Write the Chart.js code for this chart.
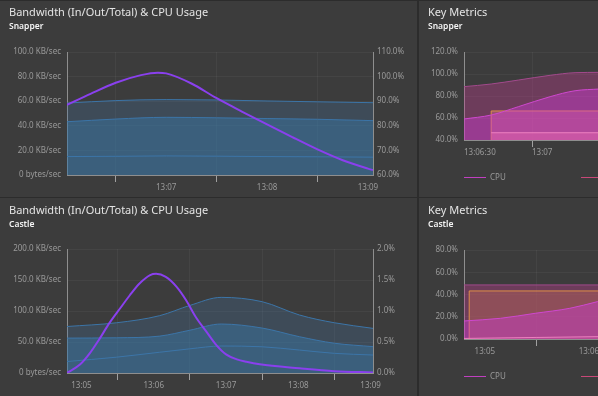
<!DOCTYPE html>
<html><head><meta charset="utf-8">
<script src="https://cdn.jsdelivr.net/npm/chart.js@4.4.1/dist/chart.umd.min.js"></script>
<style>
html,body{margin:0;padding:0;background:#3c3c3c;width:598px;height:396px;overflow:hidden;position:relative;font-family:'Noto Sans',sans-serif;}
.panel{position:absolute;overflow:visible;}
.title{position:absolute;left:9px;top:6.4px;font-size:11px;line-height:11px;color:#e4e4e4;white-space:nowrap;}
.sub{position:absolute;left:9px;top:21.8px;font-size:8.5px;line-height:8.5px;color:#f4f4f4;font-weight:600;white-space:nowrap;}
canvas{position:absolute;left:0;top:0;}
.sep{position:absolute;background:#2c2c2c;}
.leg{position:absolute;font-size:8px;line-height:8px;color:#9a9a9a;white-space:nowrap;}
.legline{position:absolute;height:1px;width:22px;}
</style></head>
<body>
<div class="sep" style="left:0;top:0;width:598px;height:1px"></div>
<div class="sep" style="left:0;top:197px;width:598px;height:1px"></div>
<div class="sep" style="left:417px;top:0;width:2px;height:396px"></div>

<div class="panel" style="left:0;top:0;width:417px;height:197px">
  <canvas id="c1" width="417" height="197"></canvas>
  <div class="title">Bandwidth (In/Out/Total) &amp; CPU Usage</div>
  <div class="sub">Snapper</div>
</div>
<div class="panel" style="left:0;top:198px;width:417px;height:198px">
  <canvas id="c2" width="417" height="198"></canvas>
  <div class="title">Bandwidth (In/Out/Total) &amp; CPU Usage</div>
  <div class="sub">Castle</div>
</div>
<div class="panel" style="left:419px;top:0;width:215px;height:197px">
  <canvas id="c3" width="215" height="197"></canvas>
  <div class="title">Key Metrics</div>
  <div class="sub">Snapper</div>
  <div class="legline" style="left:45px;top:176.5px;background:#c040c0"></div>
  <div class="leg" style="left:71px;top:173px">CPU</div>
  <div class="legline" style="left:162px;top:176.5px;background:#c84878"></div>
  <div class="leg" style="left:188px;top:173px">Memory</div>
</div>
<div class="panel" style="left:419px;top:198px;width:215px;height:198px">
  <canvas id="c4" width="215" height="198"></canvas>
  <div class="title">Key Metrics</div>
  <div class="sub">Castle</div>
  <div class="legline" style="left:45px;top:177.5px;background:#c040c0"></div>
  <div class="leg" style="left:71px;top:174px">CPU</div>
  <div class="legline" style="left:162px;top:177.5px;background:#c84878"></div>
  <div class="leg" style="left:188px;top:174px">Memory</div>
</div>

<script>
// ---------- DATA ----------
// Snapper bandwidth (KB/sec)
const snapBwTimes   = ['13:06:01','13:06:30','13:07:00','13:07:30','13:08:00','13:08:30','13:09:03'];
const snapBwTotal   = [58.5, 60.5, 61.3, 61.0, 60.2, 59.5, 58.8];
const snapBwIn      = [43.3, 45.5, 46.9, 46.5, 45.9, 45.3, 44.2];
const snapBwOut     = [15.0, 15.2, 15.5, 15.3, 15.0, 14.8, 14.5];
// Snapper CPU (%)
const snapCpuTimes  = ['13:06:01','13:06:15','13:06:30','13:06:45','13:06:55','13:07:00','13:07:15','13:07:30','13:07:45','13:08:00','13:08:15','13:08:30','13:08:45','13:09:00','13:09:03'];
const snapCpu       = [88.5, 93.0, 97.5, 100.6, 101.6, 101.3, 97.2, 91.2, 85.8, 80.6, 75.4, 70.4, 66.0, 62.6, 62.0];

// Castle bandwidth (KB/sec)
const castBwTimes   = ['13:04:48','13:05:29','13:06:05','13:06:30','13:06:56','13:07:30','13:08:01','13:08:30','13:09:02'];
const castBwTotal   = [75.0, 81.0, 92.5, 109.0, 122.0, 115.0, 93.5, 81.0, 72.0];
const castBwIn      = [56.3, 56.8, 59.5, 69.0, 79.0, 72.5, 58.5, 48.0, 42.5];
const castBwOut     = [18.5, 25.5, 33.5, 39.0, 43.5, 42.3, 37.0, 31.7, 29.0];
// Castle CPU (%)
const castCpuTimes  = ['13:04:48','13:04:59','13:05:07','13:05:15','13:05:23','13:05:32','13:05:40','13:05:48','13:05:57','13:06:02','13:06:10','13:06:19','13:06:27','13:06:35','13:06:44','13:06:52','13:07:00','13:07:09','13:07:17','13:07:28','13:08:01','13:08:30','13:09:02'];
const castCpu       = [0.00, 0.14, 0.32, 0.55, 0.80, 1.04, 1.25, 1.44, 1.58, 1.60, 1.55, 1.39, 1.17, 0.90, 0.66, 0.45, 0.30, 0.22, 0.18, 0.14, 0.076, 0.03, 0.01];

// Key metrics – Snapper (%)
const kmSnapTimes   = ['13:06:30','13:06:42','13:06:54','13:07:08','13:07:19','13:07:30'];
const kmSnapMem     = [88.5, 90.9, 94.5, 98.8, 101.2, 101.5];
const kmSnapCpu     = [59.1, 62.7, 70.3, 79.4, 84.8, 86.4];
const kmSnapBoxTimes= ['13:06:42','13:06:42','13:07:30'];
const kmSnapBox     = [40, 66.4, 66.4];
const kmSnapStripTimes = ['13:06:42','13:07:30'];
const kmSnapStrip   = [46.6, 46.6];

// Key metrics – Castle (%)
const kmCastMemTimes= ['13:04:48','13:06:10'];
const kmCastMem     = [48.6, 48.6];
const kmCastBoxTimes= ['13:04:51','13:04:51','13:06:10'];
const kmCastBox     = [0, 43.2, 43.2];
const kmCastCpuTimes= ['13:04:48','13:05:09','13:05:29','13:05:49','13:06:05','13:06:10'];
const kmCastCpu     = [16.2, 18.6, 23.1, 27.6, 33.6, 35.5];
const kmCastLowTimes= ['13:04:48','13:05:30','13:06:10'];
const kmCastLow     = [0.5, 1.4, 2.2];

// Tick labels
const bwLeftSnapTicks  = ['0 bytes/sec','20.0 KB/sec','40.0 KB/sec','60.0 KB/sec','80.0 KB/sec','100.0 KB/sec'];
const bwRightSnapTicks = ['60.0%','70.0%','80.0%','90.0%','100.0%','110.0%'];
const bwLeftCastTicks  = ['0 bytes/sec','50.0 KB/sec','100.0 KB/sec','150.0 KB/sec','200.0 KB/sec'];
const bwRightCastTicks = ['0.0%','0.5%','1.0%','1.5%','2.0%'];
const kmSnapTicks      = ['40.0%','60.0%','80.0%','100.0%','120.0%'];
const kmCastTicks      = ['0.0%','20.0%','40.0%','60.0%','80.0%'];
const snapXLabels = ['13:07','13:08','13:09'];
const snapXMarks  = ['13:06:30','13:07:30','13:08:30'];
const castXLabels = ['13:05','13:06','13:07','13:08','13:09'];
const castXMarks  = ['13:05:30','13:06:30','13:07:30','13:08:30'];
const kmSnapXLabels = ['13:06:30','13:07'];
const kmSnapXMarks  = ['13:07'];
const kmCastXLabels = ['13:05','13:06'];
const kmCastXMarks  = ['13:05:30'];

// ---------- HELPERS ----------
const TICK = '#9a9a9a', AXIS = '#8e8e8e', GRID = 'rgba(255,255,255,0.045)';
const FONT = {family:'Noto Sans', size:8};
const parseT = s => { const p = s.split(':').map(Number); return (p[0]-13)*3600 + p[1]*60 + (p[2]||0); };
const toXY = (t, v) => t.map((s,i)=>({x:parseT(s), y:v[i]}));

function timeAxis(minS, maxS, labels, marks, align, h) {
  const lab = labels.map(parseT), mk = marks.map(parseT);
  const vals = [...new Set([...lab, ...mk])].sort((a,b)=>a-b);
  return {
    type:'linear', position:'bottom', min:parseT(minS), max:parseT(maxS),
    afterBuildTicks: s => { s.ticks = vals.map(v=>({value:v})); },
    afterFit: s => { s.height = h; },
    ticks:{autoSkip:false, maxRotation:0, minRotation:0, padding:1, align:align, color:TICK, font:FONT,
      callback: v => { const i = lab.indexOf(v); return i>=0 ? labels[i] : ''; }},
    grid:{drawTicks:true, tickLength:7,
      color: c => (c.tick && mk.includes(c.tick.value)) ? GRID : 'rgba(0,0,0,0)',
      tickColor: c => (c.tick && mk.includes(c.tick.value)) ? '#a0a0a0' : 'rgba(0,0,0,0)'},
    border:{color:AXIS, width:1}
  };
}
function valueAxis(pos, min, step, labels, w, grid) {
  return {
    type:'linear', position:pos, min:min, max:min+step*(labels.length-1),
    afterBuildTicks: s => { s.ticks = labels.map((_,i)=>({value:min+i*step})); },
    afterFit: s => { s.width = w; },
    ticks:{color:TICK, font:FONT, padding: pos==='left'?6:4, callback:(v,i)=>labels[i]},
    grid:{drawOnChartArea:grid, drawTicks:false, color:GRID},
    border:{color:AXIS, width:1}
  };
}
const base = (pad) => ({
  responsive:false, animation:false, devicePixelRatio:1, events:[],
  layout:{padding:pad},
  plugins:{legend:{display:false}, tooltip:{enabled:false}},
  elements:{point:{radius:0}}
});
const PURPLE = '#8a40ee', BLUE = '#3c75a8';

function bwChart(id, times, tot, inn, out, cTimes, cpu, xMin, xMax, xl, xm, lt, lmin, lstep, rt, rmin, rstep, padTop, xh) {
  new Chart(document.getElementById(id), {
    type:'line',
    data:{datasets:[
      {data:toXY(cTimes,cpu), yAxisID:'y1', borderColor:PURPLE, borderWidth:2, fill:false, cubicInterpolationMode:'monotone', order:0},
      {data:toXY(times,out), yAxisID:'y', borderColor:BLUE, borderWidth:1, fill:false, cubicInterpolationMode:'monotone', order:1},
      {data:toXY(times,inn), yAxisID:'y', borderColor:BLUE, borderWidth:1, fill:'origin', backgroundColor:'rgba(56,122,172,0.43)', cubicInterpolationMode:'monotone', order:2},
      {data:toXY(times,tot), yAxisID:'y', borderColor:BLUE, borderWidth:1, fill:'origin', backgroundColor:'rgba(70,120,170,0.26)', cubicInterpolationMode:'monotone', order:3}
    ]},
    options:Object.assign(base({top:padTop, left:0, right:0, bottom:0}), {
      scales:{
        x: timeAxis(xMin, xMax, xl, xm, 'center', xh),
        y: valueAxis('left', lmin, lstep, lt, 67, true),
        y1: valueAxis('right', rmin, rstep, rt, 44, false)
      }
    })
  });
}

bwChart('c1', snapBwTimes, snapBwTotal, snapBwIn, snapBwOut, snapCpuTimes, snapCpu,
  '13:06:01','13:09:03', snapXLabels, snapXMarks, bwLeftSnapTicks, 0, 20, bwRightSnapTicks, 60, 10, 52, 22);
bwChart('c2', castBwTimes, castBwTotal, castBwIn, castBwOut, castCpuTimes, castCpu,
  '13:04:48','13:09:02', castXLabels, castXMarks, bwLeftCastTicks, 0, 50, bwRightCastTicks, 0, 0.5, 51, 23);

// Key metrics
const MEM_LINE = '#a24a8c', MEM_FILL = 'rgba(200,60,150,0.35)';
const CPU_LINE = '#cf48cf', CPU_FILL = 'rgba(215,60,220,0.42)';
const ORG_LINE = '#df8f4a', ORG_FILL = 'rgba(205,115,85,0.34)';
const STR_LINE = '#ee80c0', STR_FILL = 'rgba(240,110,180,0.35)';

new Chart(document.getElementById('c3'), {
  type:'line',
  data:{datasets:[
    {data:toXY(kmSnapStripTimes,kmSnapStrip), borderColor:STR_LINE, borderWidth:1, fill:'origin', backgroundColor:STR_FILL, order:0},
    {data:toXY(kmSnapTimes,kmSnapCpu), borderColor:CPU_LINE, borderWidth:1, fill:'origin', backgroundColor:CPU_FILL, cubicInterpolationMode:'monotone', order:1},
    {data:toXY(kmSnapBoxTimes,kmSnapBox), borderColor:ORG_LINE, borderWidth:1, fill:'origin', backgroundColor:'rgba(225,120,140,0.40)', order:2},
    {data:toXY(kmSnapTimes,kmSnapMem), borderColor:MEM_LINE, borderWidth:1, fill:'origin', backgroundColor:MEM_FILL, cubicInterpolationMode:'monotone', order:3}
  ]},
  options:Object.assign(base({top:52, left:0, right:0, bottom:37}), {
    scales:{
      x: timeAxis('13:06:30','13:07:45', kmSnapXLabels, kmSnapXMarks, 'start', 20),
      y: valueAxis('left', 40, 20, kmSnapTicks, 45, true)
    }
  })
});

new Chart(document.getElementById('c4'), {
  type:'line',
  data:{datasets:[
    {data:toXY(kmCastLowTimes,kmCastLow), borderColor:STR_LINE, borderWidth:1, fill:'origin', backgroundColor:'rgba(240,110,180,0.15)', order:0},
    {data:toXY(kmCastCpuTimes,kmCastCpu), borderColor:CPU_LINE, borderWidth:1, fill:'origin', backgroundColor:CPU_FILL, cubicInterpolationMode:'monotone', order:1},
    {data:toXY(kmCastBoxTimes,kmCastBox), borderColor:ORG_LINE, borderWidth:1, fill:'origin', backgroundColor:ORG_FILL, order:2},
    {data:toXY(kmCastMemTimes,kmCastMem), borderColor:MEM_LINE, borderWidth:1, fill:'origin', backgroundColor:MEM_FILL, order:3}
  ]},
  options:Object.assign(base({top:52, left:0, right:0, bottom:37}), {
    scales:{
      x: timeAxis('13:04:48','13:06:26', kmCastXLabels, kmCastXMarks, 'center', 20),
      y: valueAxis('left', 0, 20, kmCastTicks, 45, true)
    }
  })
});
</script>
</body></html>
